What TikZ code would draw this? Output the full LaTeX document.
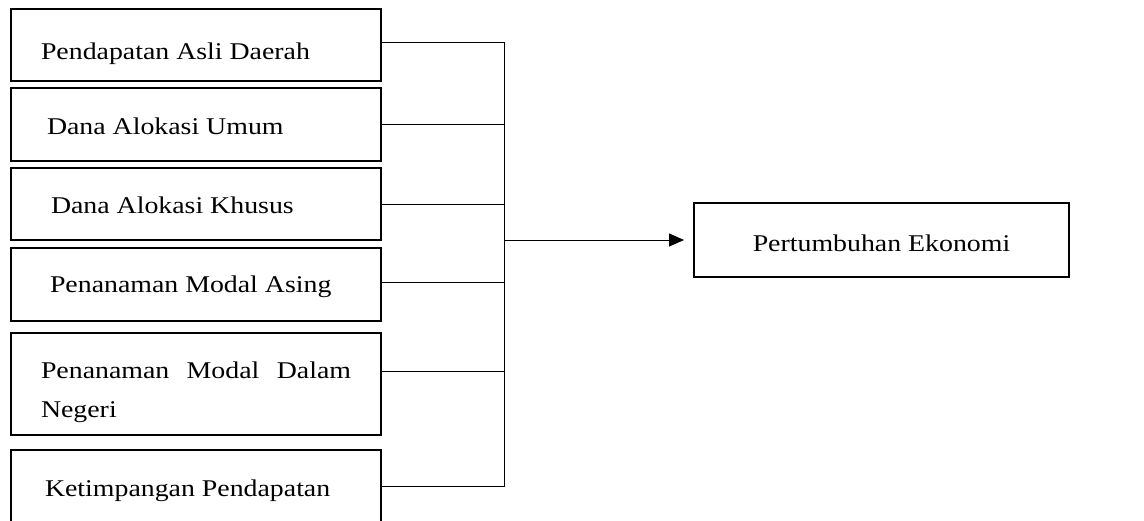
\documentclass[tikz,border=0pt]{standalone}
\usepackage{fontspec}
\setmainfont{Liberation Serif}[FakeStretch=1.16]
\usepackage{tikz}
\usetikzlibrary{arrows.meta}

\begin{document}
\begin{tikzpicture}[
  varbox/.style={draw,line width=1.2pt,minimum width=185bp,text width=155bp,inner xsep=15bp,align=justify,font=\fontsize{12bp}{19.5bp}\selectfont},
  oneline/.style={text height=13bp,text depth=3bp},
  link/.style={line width=0.5pt}]

\useasboundingbox (0bp,0bp) rectangle (572bp,-260.5bp);

\node (PAD) at (98bp,-22.5bp)[varbox,oneline,text height=17.5bp,minimum height=36bp] {Pendapatan Asli Daerah};
\node (DAU) at (98bp,-62.25bp)[varbox,oneline,minimum height=36.5bp] {\hspace*{3bp}Dana Alokasi Umum};
\node (DAK) at (98bp,-102bp)[varbox,oneline,text height=12bp,minimum height=36bp] {\hspace*{5bp}Dana Alokasi Khusus};
\node (PMA) at (98bp,-142.25bp)[varbox,oneline,text height=10.5bp,minimum height=36.5bp] {\hspace*{4.5bp}Penanaman Modal Asing};
\node (PMDN) at (98bp,-192bp)[varbox,minimum height=51bp] {\rule{0pt}{17bp}Penanaman Modal Dalam Negeri};
\node (KP) at (98bp,-243bp)[varbox,oneline,minimum height=36bp] {\hspace*{2bp}Ketimpangan Pendapatan};
\node (PE) at (440.75bp,-120bp)[draw,line width=1pt,minimum width=187.5bp,minimum height=37bp,oneline,text height=14bp,font=\fontsize{12bp}{19.5bp}\selectfont] {Pertumbuhan Ekonomi};
\coordinate (jn) at (252bp,-120bp);

\draw [link] ([yshift=1.5bp]PAD.east) -| (jn);
\draw [link] (KP.east) -| (jn);
\draw [link] (DAU.east) -- (DAU.east -| jn);
\draw [link] (DAK.east) -- (DAK.east -| jn);
\draw [link] ([yshift=1.2bp]PMA.east) -- ([yshift=1.2bp]PMA.east -| jn);
\draw [link] ([yshift=6.5bp]PMDN.east) -- ([yshift=6.5bp]PMDN.east -| jn);
\draw [link,-{Triangle[length=7.5bp,width=6.5bp]},shorten >=4.5bp] (jn) -- (PE.west);
\end{tikzpicture}
\end{document}
